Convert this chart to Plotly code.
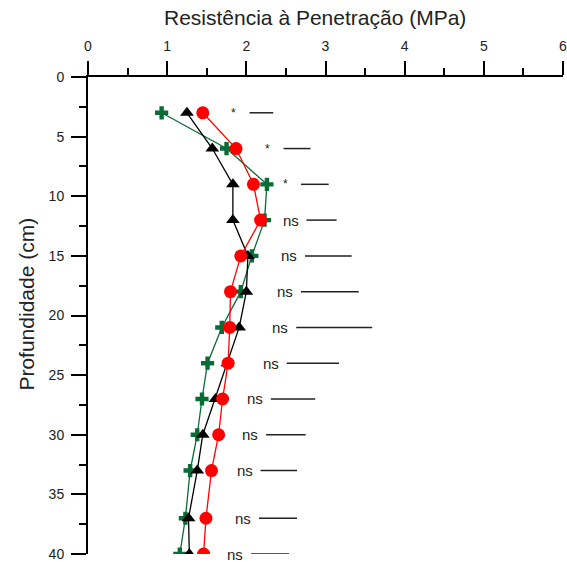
import plotly.graph_objects as go

# Data
depth = [3, 6, 9, 12, 15, 18, 21, 24, 27, 30, 33, 37, 40]
red_vals = [1.45, 1.87, 2.09, 2.18, 1.93, 1.80, 1.79, 1.77, 1.70, 1.65, 1.56, 1.49, 1.46]
black_vals = [1.25, 1.57, 1.83, 1.83, 2.02, 2.00, 1.91, 1.76, 1.61, 1.45, 1.38, 1.27, 1.28]
green_vals = [0.93, 1.75, 2.26, 2.23, 2.07, 1.93, 1.69, 1.51, 1.44, 1.38, 1.29, 1.23, 1.16]

sig_labels = ["*", "*", "*", "ns", "ns", "ns", "ns", "ns", "ns", "ns", "ns", "ns", "ns"]
lsd_start = [2.04, 2.47, 2.69, 2.76, 2.74, 2.69, 2.63, 2.51, 2.31, 2.25, 2.18, 2.16, 2.06]
lsd_end = [2.34, 2.81, 3.04, 3.14, 3.33, 3.42, 3.59, 3.17, 2.87, 2.75, 2.64, 2.64, 2.54]

x_title = "Resistência à Penetração (MPa)"
y_title = "Profundidade (cm)"

FONT = "Liberation Sans, Arial, sans-serif"

fig = go.Figure()

fig.add_trace(go.Scatter(
    x=green_vals, y=depth, mode="lines+markers",
    line=dict(color="#0a6b36", width=1.3),
    marker=dict(symbol="cross", size=11, color="#0a6b36"),
    showlegend=False))
fig.add_trace(go.Scatter(
    x=black_vals, y=depth, mode="lines+markers",
    line=dict(color="black", width=1.3),
    marker=dict(symbol="triangle-up", size=12, color="black"),
    showlegend=False))
fig.add_trace(go.Scatter(
    x=red_vals, y=depth, mode="lines+markers",
    line=dict(color="#ff0000", width=1.3),
    marker=dict(symbol="circle", size=13, color="#ff0000"),
    showlegend=False))

shapes = []
annotations = []
for d, lab, x0, x1 in zip(depth, sig_labels, lsd_start, lsd_end):
    shapes.append(dict(type="line", xref="x", yref="y", x0=x0, x1=x1, y0=d, y1=d,
                       line=dict(color="#222222", width=1.5)))
    annotations.append(dict(x=x0 - 0.2, y=d, xref="x", yref="y", text=lab,
                            showarrow=False, xanchor="center", yanchor="middle",
                            font=dict(family=FONT, size=15 if lab == "ns" else 12, color="#222222")))

# Titles
annotations.append(dict(x=(317 - 88) / 479, y=1, xref="paper", yref="paper",
                        yshift=60, text=x_title, showarrow=False,
                        xanchor="center", yanchor="middle",
                        font=dict(family=FONT, size=21, color="#222222")))
annotations.append(dict(x=0, y=(557 - 306) / 480, xref="paper", yref="paper",
                        xshift=-61, text=y_title, showarrow=False, textangle=-90,
                        xanchor="center", yanchor="middle",
                        font=dict(family=FONT, size=21, color="#222222")))

fig.update_layout(
    width=567, height=562,
    margin=dict(l=88, r=0, t=77, b=5),
    paper_bgcolor="white", plot_bgcolor="white",
    font=dict(family=FONT, size=14, color="#222222"),
    shapes=shapes, annotations=annotations,
    xaxis=dict(
        range=[0, 6], side="top", showgrid=False, zeroline=False,
        showline=True, linecolor="black", linewidth=2,
        ticks="outside", ticklen=14, tickwidth=2, tickcolor="black",
        tick0=0, dtick=1, ticklabeloverflow="allow", ticklabelstandoff=4,
        minor=dict(ticks="outside", ticklen=7, tickwidth=2, tickcolor="black", dtick=0.5, showgrid=False),
        tickfont=dict(family=FONT, size=14, color="#222222"),
    ),
    yaxis=dict(
        range=[40, 0], showgrid=False, zeroline=False,
        showline=True, linecolor="black", linewidth=2,
        ticks="outside", ticklen=15, tickwidth=2, tickcolor="black",
        tick0=0, dtick=5, ticklabeloverflow="allow", ticklabelstandoff=4,
        minor=dict(ticks="outside", ticklen=7, tickwidth=2, tickcolor="black", dtick=2.5, showgrid=False),
        tickfont=dict(family=FONT, size=14, color="#222222"),
    ),
)

fig.write_html("out.html")
